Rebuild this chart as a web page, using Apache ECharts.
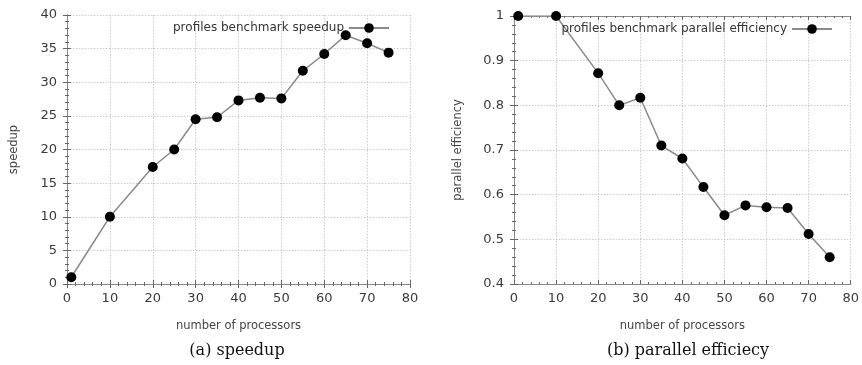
<!DOCTYPE html>
<html><head><meta charset="utf-8">
<script src="https://cdn.jsdelivr.net/npm/echarts@6/dist/echarts.min.js"></script>
<style>html,body{margin:0;padding:0;background:#fff}#c{width:862px;height:365px}</style>
</head><body><div id="c"></div>
<script>
const processors = [1, 10, 20, 25, 30, 35, 40, 45, 50, 55, 60, 65, 70, 75];
const speedup = [1, 10, 17.4, 20, 24.5, 24.8, 27.3, 27.7, 27.6, 31.7, 34.2, 37, 35.8, 34.4];
const efficiency = [1, 1, 0.872, 0.8, 0.817, 0.71, 0.681, 0.617, 0.554, 0.576, 0.572, 0.57, 0.512, 0.46];
const speedupName = 'profiles benchmark speedup';
const effName = 'profiles benchmark parallel efficiency';
const captions = ['(a) speedup', '(b) parallel efficiecy'];

const chart = echarts.init(document.getElementById('c'));
const font = 'DejaVu Sans';
const labelColor = '#3a3a3a';
const axisLine = {show: true, lineStyle: {color: '#888', width: 1}};
function xAxis(gi, pos, show) {
  return {
    type: 'value', gridIndex: gi, position: pos, min: 0, max: 80, interval: 10,
    name: show ? 'number of processors' : '', nameLocation: 'middle', nameGap: 36,
    nameTextStyle: {fontFamily: font, fontSize: 11.5, color: '#444'},
    axisLine: axisLine,
    axisTick: {show: true, inside: true, length: 4, lineStyle: {color: '#666'}},
    minorTick: {show: true, splitNumber: 5, length: 2, lineStyle: {color: '#666'}},
    axisLabel: {show: show, fontFamily: font, fontSize: 13, color: labelColor, margin: 8},
    splitLine: {show: show, lineStyle: {color: '#ccc', type: [1.5, 1.5]}}
  };
}
function yAxis(gi, pos, show, min, max, interval, name, fmt) {
  return {
    type: 'value', gridIndex: gi, position: pos, min: min, max: max, interval: interval,
    name: show ? name : '', nameLocation: 'middle', nameGap: show ? (gi === 0 ? 47 : 50) : 0, nameRotate: 90,
    nameTextStyle: {fontFamily: font, fontSize: 11.5, color: '#444'},
    axisLine: axisLine,
    axisTick: {show: true, inside: true, length: 4, lineStyle: {color: '#666'}},
    minorTick: {show: true, splitNumber: 5, length: 2, lineStyle: {color: '#666'}},
    axisLabel: {show: show, fontFamily: font, fontSize: 13, color: labelColor, margin: 10, formatter: fmt},
    splitLine: {show: show, lineStyle: {color: '#ccc', type: [1.5, 1.5]}}
  };
}
const pairs = (xs, ys) => xs.map((x, i) => [x, ys[i]]);
const lineSeries = (name, xi, yi, data) => ({
  name: name, type: 'line', xAxisIndex: xi, yAxisIndex: yi, data: data,
  symbol: 'circle', symbolSize: 10,
  lineStyle: {color: '#8a8a8a', width: 1.5},
  itemStyle: {color: '#000'}
});
chart.setOption({
  animation: false,
  backgroundColor: '#fff',
  grid: [
    {left: 67, right: 452, top: 15, bottom: 81},
    {left: 514, right: 8, top: 16, bottom: 81}
  ],
  xAxis: [xAxis(0, 'bottom', true), xAxis(0, 'top', false), xAxis(1, 'bottom', true), xAxis(1, 'top', false)],
  yAxis: [
    yAxis(0, 'left', true, 0, 40, 5, 'speedup'),
    yAxis(0, 'right', false, 0, 40, 5, ''),
    yAxis(1, 'left', true, 0.4, 1, 0.1, 'parallel efficiency', v => (Math.abs(v - 1) < 1e-9 ? '1' : v.toFixed(1))),
    yAxis(1, 'right', false, 0.4, 1, 0.1, '')
  ],
  legend: [
    {data: [speedupName], right: 467, top: 17, align: 'right', itemWidth: 40, itemHeight: 12, itemGap: 10,
     textStyle: {fontFamily: font, fontSize: 12, color: '#333'}},
    {data: [effName], right: 24, top: 18, align: 'right', itemWidth: 40, itemHeight: 12,
     textStyle: {fontFamily: font, fontSize: 12, color: '#333'}}
  ],
  title: [
    {text: captions[0], left: 232, top: 338, textAlign: 'center',
     textStyle: {fontFamily: 'DejaVu Serif', fontWeight: 'normal', fontSize: 16, color: '#111'}},
    {text: captions[1], left: 683, top: 338, textAlign: 'center',
     textStyle: {fontFamily: 'DejaVu Serif', fontWeight: 'normal', fontSize: 16, color: '#111'}}
  ],
  series: [
    lineSeries(speedupName, 0, 0, pairs(processors, speedup)),
    lineSeries(effName, 2, 2, pairs(processors, efficiency))
  ]
});
</script></body></html>
